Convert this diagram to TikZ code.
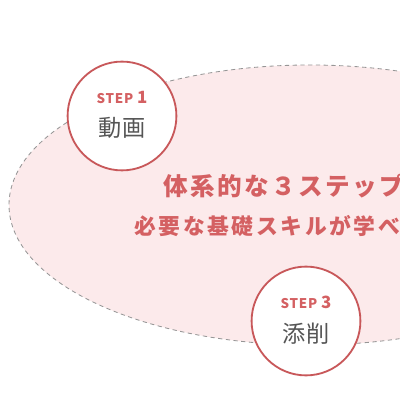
\documentclass[tikz,border=0pt]{standalone}
\usepackage{fontspec}
\usepackage{xcolor}
\newfontfamily\jpfont{Noto Sans CJK JP}
\definecolor{stpred}{RGB}{200, 88, 90}
\definecolor{stptext}{RGB}{212, 96, 98}
\definecolor{stpgray}{RGB}{85, 85, 85}
\definecolor{stppink}{RGB}{252, 234, 235}
\definecolor{stpdash}{RGB}{150, 150, 150}
\usetikzlibrary{positioning}

\begin{document}
\begin{tikzpicture}[
    stepcircle/.style={circle, draw=stpred, line width=1.3pt, fill=white, minimum size=2.72cm, inner sep=0pt},
    steptag/.style={font=\jpfont\bfseries\fontsize{9.5}{11}\selectfont\addfontfeature{LetterSpace=6}, text=stptext},
    stepname/.style={font=\jpfont\fontsize{16.5}{18}\selectfont, text=stpgray},
    headline/.style={anchor=west, text=stptext, inner sep=0pt}
]
\useasboundingbox (0, 0) rectangle (10, 10);
\clip (0, 0) rectangle (10, 10);

% === Fondo ===
\draw[stpdash, dash pattern=on 3pt off 2.5pt, fill=stppink, line width=0.6pt] (7.75, 4.875) ellipse (7.525cm and 3.5cm);

% === Titulares ===
\node[headline, font=\jpfont\bfseries\fontsize{17.5}{19}\selectfont\addfontfeature{LetterSpace=10}] (H1) at (4.075, 5.35) {体系的な３ステップ};
\node[headline, font=\jpfont\bfseries\fontsize{15.5}{17}\selectfont\addfontfeature{LetterSpace=12}] (H2) at (3.35, 4.35) {必要な基礎スキルが学べ};

% === Pasos ===
\node[stepcircle] (S1) at (3.05, 7.1) {};
\node[steptag] (S1tag) at (3.05, 7.575) {STEP {\fontsize{12}{14}\selectfont 1}};
\node[stepname] (S1name) at (3.05, 6.8) {動画};

\node[stepcircle] (S3) at (7.65, 1.975) {};
\node[steptag] (S3tag) at (7.65, 2.45) {STEP {\fontsize{12}{14}\selectfont 3}};
\node[stepname] (S3name) at (7.65, 1.65) {添削};

\end{tikzpicture}
\end{document}
